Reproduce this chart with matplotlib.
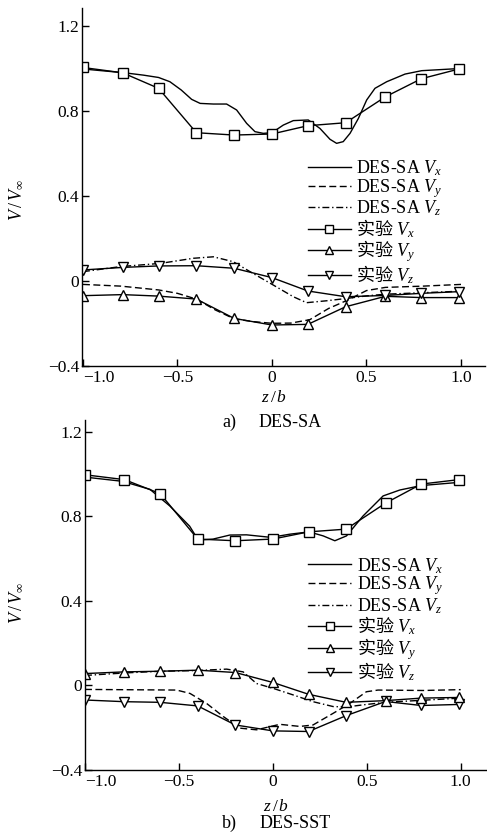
import numpy as np
import matplotlib
matplotlib.use("Agg")
import matplotlib.pyplot as plt

# шрифти: Times-подібний + китайський для "实验"
plt.rcParams['font.family'] = ['Liberation Serif', 'Noto Sans CJK SC']
plt.rcParams['mathtext.fontset'] = 'custom'
plt.rcParams['mathtext.rm'] = 'Liberation Serif'
plt.rcParams['mathtext.it'] = 'Liberation Serif:italic'
plt.rcParams['mathtext.sf'] = 'Noto Sans CJK SC'   # для ієрогліфів у mathtext
plt.rcParams['axes.unicode_minus'] = True

# ---- дані: експеримент (точки z/b) ----
x_exp = [-1.0, -0.79, -0.6, -0.4, -0.2, 0.0, 0.19, 0.39, 0.6, 0.79, 0.99]

# панель a) DES-SA
a_exp_vx = [1.005, 0.98, 0.907, 0.698, 0.687, 0.692, 0.731, 0.745, 0.867, 0.952, 0.998]
a_exp_vy = [-0.069, -0.064, -0.071, -0.085, -0.176, -0.207, -0.204, -0.121, -0.072, -0.078, -0.078]
a_exp_vz = [0.052, 0.064, 0.071, 0.072, 0.06, 0.016, -0.047, -0.074, -0.068, -0.058, -0.05]

a_sim_vx_x = [-1.0, -0.78, -0.68, -0.6, -0.54, -0.48, -0.425, -0.38, -0.31, -0.24, -0.187,
              -0.134, -0.09, -0.046, 0.0, 0.06, 0.113, 0.192, 0.254, 0.307, 0.342, 0.377,
              0.413, 0.457, 0.501, 0.545, 0.607, 0.704, 0.792, 0.99]
a_sim_vx = [0.998, 0.98, 0.969, 0.958, 0.938, 0.899, 0.855, 0.836, 0.833, 0.833, 0.805,
            0.742, 0.703, 0.695, 0.698, 0.734, 0.755, 0.758, 0.718, 0.667, 0.648, 0.656,
            0.695, 0.765, 0.852, 0.907, 0.938, 0.974, 0.99, 1.0]

a_sim_vy_x = [-1.0, -0.8, -0.6, -0.5, -0.4, -0.3, -0.2, -0.1, 0.0, 0.1, 0.2, 0.3, 0.4, 0.5, 0.6, 0.8, 1.0]
a_sim_vy = [-0.016, -0.024, -0.042, -0.058, -0.085, -0.136, -0.178, -0.191, -0.199, -0.198, -0.182,
            -0.129, -0.09, -0.045, -0.03, -0.024, -0.016]

a_sim_vz_x = [-1.0, -0.8, -0.59, -0.416, -0.31, -0.205, -0.116, 0.007, 0.113, 0.183, 0.289,
              0.395, 0.5, 0.6, 0.8, 1.0]
a_sim_vz = [0.044, 0.068, 0.083, 0.107, 0.114, 0.091, 0.044, -0.019, -0.074, -0.102, -0.093,
            -0.082, -0.07, -0.062, -0.055, -0.048]

# панель b) DES-SST
b_exp_vx = [0.996, 0.973, 0.907, 0.692, 0.684, 0.692, 0.726, 0.739, 0.862, 0.952, 0.973]
b_exp_vy = [0.056, 0.064, 0.067, 0.072, 0.061, 0.014, -0.042, -0.08, -0.072, -0.06, -0.057]
b_exp_vz = [-0.069, -0.077, -0.08, -0.097, -0.187, -0.215, -0.218, -0.143, -0.076, -0.095, -0.09]

b_sim_vx_x = [-1.0, -0.8, -0.654, -0.548, -0.443, -0.397, -0.318, -0.229, -0.14, -0.01, 0.09,
              0.193, 0.268, 0.33, 0.392, 0.48, 0.587, 0.676, 0.79, 0.99]
b_sim_vx = [0.985, 0.965, 0.927, 0.848, 0.753, 0.687, 0.692, 0.711, 0.712, 0.7, 0.715,
            0.726, 0.707, 0.684, 0.707, 0.801, 0.896, 0.924, 0.945, 0.96]

b_sim_vy_x = [-1.0, -0.512, -0.441, -0.353, -0.264, -0.176, -0.087, 0.037, 0.144, 0.214,
              0.321, 0.41, 0.498, 0.56, 0.8, 1.0]
b_sim_vy = [-0.019, -0.022, -0.038, -0.085, -0.147, -0.202, -0.21, -0.184, -0.194, -0.187,
            -0.132, -0.085, -0.03, -0.022, -0.024, -0.02]

b_sim_vz_x = [-1.0, -0.787, -0.6, -0.415, -0.246, -0.158, -0.087, 0.002, 0.108, 0.214,
              0.321, 0.392, 0.48, 0.6, 0.8, 1.0]
b_sim_vz = [0.047, 0.059, 0.067, 0.07, 0.077, 0.064, 0.009, -0.014, -0.045, -0.077,
            -0.1, -0.102, -0.092, -0.08, -0.07, -0.06]

labels = ['DES-SA $V_x$', 'DES-SA $V_y$', 'DES-SA $V_z$',
          '$\\mathsf{实验}\\ V_x$', '$\\mathsf{实验}\\ V_y$', '$\\mathsf{实验}\\ V_z$']
xticks = [-1.0, -0.5, 0.0, 0.5, 1.0]
xticklabels = ['−1.0', '−0.5', '0', '0.5', '1.0']
yticks = [-0.4, 0.0, 0.4, 0.8, 1.2]
yticklabels = ['−0.4', '0', '0.4', '0.8', '1.2']

DASH = (0, (5, 2.5))
DASHDOT = (0, (5, 2, 1, 2))

fig = plt.figure(figsize=(4.87, 8.33), dpi=100)


def draw_panel(ax, sims, exps, markers, xlim, ylim):
    (vx_x, vx), (vy_x, vy), (vz_x, vz) = sims
    ax.plot(vx_x, vx, color='black', lw=1.0, ls='-', label=labels[0])
    ax.plot(vy_x, vy, color='black', lw=1.0, ls=DASH, label=labels[1])
    ax.plot(vz_x, vz, color='black', lw=1.0, ls=DASHDOT, label=labels[2])
    for ys, m, lab in zip(exps, markers, labels[3:]):
        ax.plot(x_exp, ys, color='black', lw=1.0, marker=m, ms=7,
                mfc='white', mec='black', mew=1.0, label=lab)
    ax.set_xlim(*xlim)
    ax.set_ylim(*ylim)
    ax.spines['top'].set_visible(False)
    ax.spines['right'].set_visible(False)
    ax.spines['left'].set_linewidth(1.0)
    ax.spines['bottom'].set_linewidth(1.0)
    ax.set_xticks(xticks)
    ax.set_xticklabels(xticklabels)
    ax.get_xticklabels()[0].set_horizontalalignment('left')
    ax.set_yticks(yticks)
    ax.set_yticklabels(yticklabels)
    ax.tick_params(direction='in', length=5, width=1.0, labelsize=12.5, pad=3)
    ax.tick_params(axis='y', pad=2)
    ax.set_xlabel('$z\\,/\\,b$', fontsize=12.5)
    ax.set_ylabel('$V\\,/\\,V_\\infty$', fontsize=13)


# a) DES-SA
ax1 = fig.add_axes([82 / 487, 1 - 366 / 833, 403 / 487, 358 / 833])
draw_panel(ax1,
           [(a_sim_vx_x, a_sim_vx), (a_sim_vy_x, a_sim_vy), (a_sim_vz_x, a_sim_vz)],
           [a_exp_vx, a_exp_vy, a_exp_vz], ['s', '^', 'v'],
           (-1.005, 1.127), (-0.4, 1.285))
ax1.xaxis.set_label_coords(0.476, -0.067)
ax1.yaxis.set_label_coords(-0.141, 0.464)
ax1.legend(loc='upper left', bbox_to_anchor=(0.56, 0.58), frameon=False, fontsize=13,
           handlelength=2.4, handletextpad=0.3, labelspacing=-0.07, borderpad=0,
           borderaxespad=0, markerscale=0.75)

# b) DES-SST
ax2 = fig.add_axes([85 / 487, 1 - 770 / 833, 402 / 487, 350 / 833])
draw_panel(ax2,
           [(b_sim_vx_x, b_sim_vx), (b_sim_vy_x, b_sim_vy), (b_sim_vz_x, b_sim_vz)],
           [b_exp_vx, b_exp_vz, b_exp_vy], ['s', 'v', '^'],
           (-1.0, 1.14), (-0.4, 1.255))
ax2.xaxis.set_label_coords(0.475, -0.082)
ax2.yaxis.set_label_coords(-0.149, 0.477)
# у легенді порядок: квадрат, трикутник вгору, трикутник вниз
h, l = ax2.get_legend_handles_labels()
ax2.legend([h[0], h[1], h[2], h[3], h[5], h[4]], labels, loc='upper left',
           bbox_to_anchor=(0.555, 0.612), frameon=False, fontsize=13,
           handlelength=2.4, handletextpad=0.3, labelspacing=-0.07, borderpad=0,
           borderaxespad=0, markerscale=0.75)

# підписи панелей
fig.text(229 / 487, 1 - 427 / 833, 'a)', fontsize=13, ha='center', va='baseline')
fig.text(259 / 487, 1 - 427 / 833, 'DES-SA', fontsize=13, ha='left', va='baseline')
fig.text(229 / 487, 1 - 828 / 833, 'b)', fontsize=13, ha='center', va='baseline')
fig.text(260 / 487, 1 - 828 / 833, 'DES-SST', fontsize=13, ha='left', va='baseline')

fig.savefig('out.png', dpi=100)
